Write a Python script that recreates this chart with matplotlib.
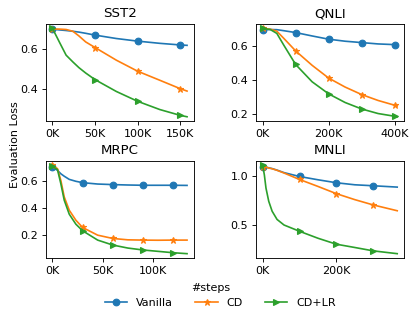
import numpy as np
import matplotlib
matplotlib.use('Agg')
import matplotlib.pyplot as plt
from matplotlib.ticker import FuncFormatter

# steps are in thousands
sst2_steps = [0, 6, 8, 16, 24, 31, 39, 50, 75, 100, 126, 150, 158]
sst2_vanilla = [0.695, 0.694, 0.693, 0.690, 0.686, 0.682, 0.676, 0.667, 0.650, 0.637, 0.626, 0.618, 0.616]
sst2_cd = [0.697, 0.697, 0.697, 0.695, 0.686, 0.663, 0.633, 0.605, 0.542, 0.487, 0.442, 0.400, 0.388]
sst2_cdlr = [0.700, 0.650, 0.633, 0.567, 0.533, 0.505, 0.478, 0.445, 0.386, 0.337, 0.296, 0.267, 0.260]
sst2_marks = [0, 50, 100, 150]

qnli_steps = [0, 23, 43, 64, 100, 150, 200, 250, 300, 350, 400, 408]
qnli_vanilla = [0.695, 0.697, 0.696, 0.690, 0.679, 0.659, 0.640, 0.628, 0.620, 0.612, 0.608, 0.607]
qnli_cd = [0.703, 0.699, 0.687, 0.645, 0.571, 0.486, 0.411, 0.358, 0.314, 0.279, 0.251, 0.247]
qnli_cdlr = [0.703, 0.697, 0.674, 0.605, 0.491, 0.389, 0.318, 0.267, 0.229, 0.202, 0.186, 0.183]
qnli_marks = [0, 100, 200, 300, 400]

mrpc_steps = [0, 5, 8.3, 11.7, 16.7, 23.3, 30, 45, 60, 75, 90, 105, 120, 134]
mrpc_vanilla = [0.699, 0.675, 0.650, 0.632, 0.609, 0.595, 0.585, 0.575, 0.571, 0.568, 0.566, 0.566, 0.566, 0.565]
mrpc_cd = [0.711, 0.687, 0.602, 0.481, 0.384, 0.311, 0.258, 0.202, 0.178, 0.168, 0.166, 0.165, 0.166, 0.166]
mrpc_cdlr = [0.704, 0.680, 0.578, 0.457, 0.355, 0.282, 0.234, 0.166, 0.130, 0.108, 0.094, 0.084, 0.074, 0.067]
mrpc_marks = [0, 30, 60, 90, 120]

mnli_steps = [0, 4.6, 9, 16.5, 25.7, 39, 58, 100, 150, 200, 250, 300, 365]
mnli_vanilla = [1.103, 1.100, 1.097, 1.090, 1.082, 1.066, 1.040, 1.000, 0.966, 0.935, 0.914, 0.904, 0.890]
mnli_cd = [1.103, 1.099, 1.095, 1.088, 1.080, 1.064, 1.036, 0.969, 0.897, 0.822, 0.760, 0.705, 0.645]
mnli_cdlr = [1.115, 1.017, 0.880, 0.743, 0.640, 0.555, 0.497, 0.432, 0.360, 0.298, 0.264, 0.229, 0.200]
mnli_marks = [0, 100, 200, 300]

panels = [
    ('SST2', sst2_steps, sst2_vanilla, sst2_cd, sst2_cdlr, sst2_marks, [0, 50, 100, 150], [0.4, 0.6]),
    ('QNLI', qnli_steps, qnli_vanilla, qnli_cd, qnli_cdlr, qnli_marks, [0, 200, 400], [0.2, 0.4, 0.6]),
    ('MRPC', mrpc_steps, mrpc_vanilla, mrpc_cd, mrpc_cdlr, mrpc_marks, [0, 50, 100], [0.2, 0.4, 0.6]),
    ('MNLI', mnli_steps, mnli_vanilla, mnli_cd, mnli_cdlr, mnli_marks, [0, 200], [0.5, 1.0]),
]

labels = ['Vanilla', 'CD', 'CD+LR']
markers = ['o', '*', '>']

fig, axes = plt.subplots(2, 2, figsize=(416/80, 321/80), dpi=80)
plt.subplots_adjust(left=0.11, right=0.971, top=0.925, bottom=0.196, wspace=0.42, hspace=0.41)

for ax, (name, steps, v, cd, cdlr, marks, xt, yt) in zip(axes.flat, panels):
    every = [i for i, s in enumerate(steps) if s in marks]
    for series, lab, mk in zip([v, cd, cdlr], labels, markers):
        ax.plot(steps, series, marker=mk, markevery=every, label=lab, markersize=6)
    ax.set_title(name)
    ax.set_xticks(xt)
    ax.set_yticks(yt)
    ax.xaxis.set_major_formatter(FuncFormatter(lambda x, p: f'{x:.0f}K'))

fig.supylabel('Evaluation Loss', x=0.025, y=0.548, fontsize=10)
fig.supxlabel('#steps', x=0.507, y=0.087, fontsize=10)
handles, labs = axes[0, 0].get_legend_handles_labels()
fig.legend(handles, labs, loc='lower center', bbox_to_anchor=(0.53, 0.01), ncol=3, frameon=False)

plt.savefig('out.png', dpi=80)
